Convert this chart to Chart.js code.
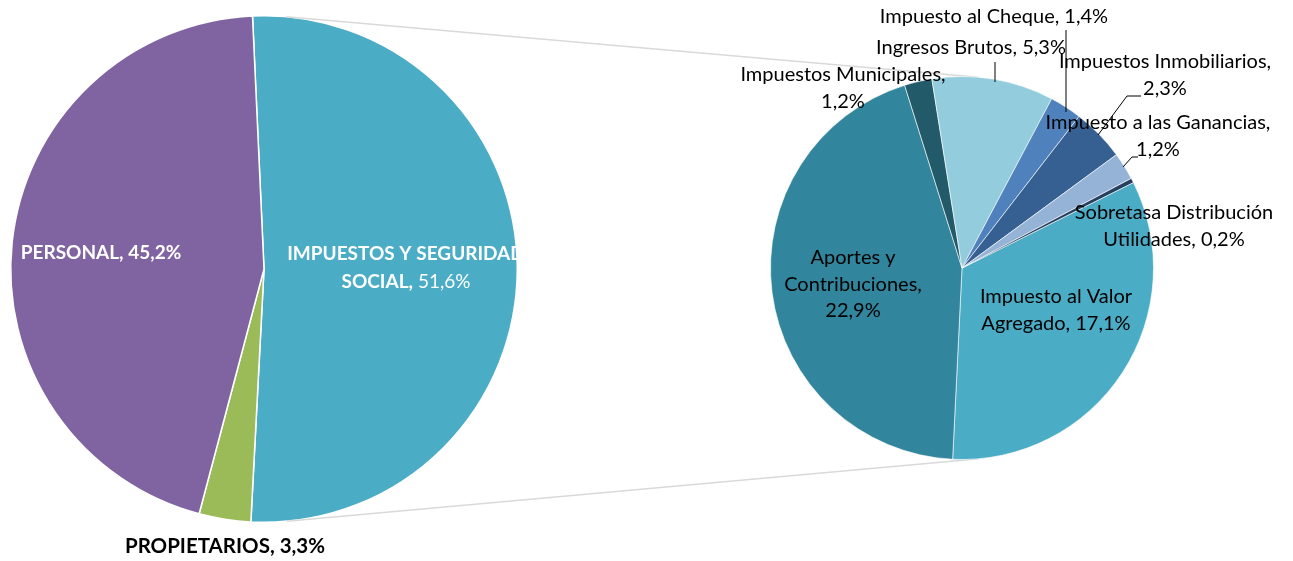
<!DOCTYPE html>
<html><head><meta charset="utf-8">
<script src="https://cdn.jsdelivr.net/npm/chart.js@4.4.1/dist/chart.umd.min.js"></script>
<style>
html,body{margin:0;padding:0;background:#fff;overflow:hidden}
#wrap{position:relative;width:1293px;height:561px}
canvas{position:absolute;left:0;top:0}
</style></head><body>
<div id="wrap"><canvas id="c1" width="1293" height="561"></canvas><canvas id="c2" width="1293" height="561"></canvas></div>
<script>
// ---- data ----
const mainCategories = ['IMPUESTOS Y SEGURIDAD SOCIAL', 'PROPIETARIOS', 'PERSONAL'];
const mainValues = [51.6, 3.3, 45.2];
const taxCategories = ['Impuesto al Valor Agregado', 'Aportes y Contribuciones', 'Impuestos Municipales', 'Ingresos Brutos', 'Impuesto al Cheque', 'Impuestos Inmobiliarios', 'Impuesto a las Ganancias', 'Sobretasa Distribución Utilidades'];
const taxValues = [17.1, 22.9, 1.2, 5.3, 1.4, 2.3, 1.2, 0.2];

// ---- styles ----
const mainColors = ['#4BACC6', '#9BBB59', '#8064A2'];
const taxColors = ['#4BACC6', '#31859C', '#235A69', '#93CDDD', '#4F81BD', '#376092', '#95B3D7', '#254061'];
const FONT = 'Lato, "Open Sans", sans-serif';
const fmt = v => v.toFixed(1).replace('.', ',') + '%';

// label layout: offsets relative to pie center, lines of segments
const mainLabelLayout = [
  { dx: 142, dy: -15, gap: 28, color: '#fff', size: 19, clip: true,
    lines: i => [[{ t: 'IMPUESTOS Y SEGURIDAD', b: true }], [{ t: 'SOCIAL,', b: true }, { t: ' ' + fmt(mainValues[i]), b: false }]] },
  { dx: -39, dy: 277, gap: 28, color: '#000', size: 20.5,
    lines: i => [[{ t: mainCategories[i] + ', ' + fmt(mainValues[i]), b: true }]] },
  { dx: -163, dy: -16, gap: 28, color: '#fff', size: 19,
    lines: i => [[{ t: mainCategories[i] + ', ' + fmt(mainValues[i]), b: true }]] }
];
const taxLabelLayout = [
  { dx: 94, dy: 29, lines: i => ['Impuesto al Valor', 'Agregado, ' + fmt(taxValues[i])] },
  { dx: -109, dy: -10, lines: i => ['Aportes y', 'Contribuciones,', fmt(taxValues[i])] },
  { dx: -119, dy: -193, lines: i => ['Impuestos Municipales,', fmt(taxValues[i])] },
  { dx: 9, dy: -220, lines: i => ['Ingresos Brutos, ' + fmt(taxValues[i])], leader: [[33, -206], [33, -186]] },
  { dx: 32, dy: -251, lines: i => ['Impuesto al Cheque, ' + fmt(taxValues[i])], leader: [[104, -238], [104, -156]] },
  { dx: 203, dy: -206, lines: i => ['Impuestos Inmobiliarios,', fmt(taxValues[i])], leader: [[179, -172], [165, -172], [136, -133]] },
  { dx: 196, dy: -145, lines: i => ['Impuesto a las Ganancias,', fmt(taxValues[i])], leader: [[176, -111], [170, -111], [161, -101]] },
  { dx: 212, dy: -55, lines: i => ['Sobretasa Distribución', 'Utilidades, ' + fmt(taxValues[i])] }
];

function drawSegLine(ctx, segs, cx, y, size) {
  let total = 0;
  const widths = segs.map(s => { ctx.font = (s.b ? 'bold ' : '') + size + 'px ' + FONT; const w = ctx.measureText(s.t).width; total += w; return w; });
  let x = cx - total / 2;
  segs.forEach((s, k) => { ctx.font = (s.b ? 'bold ' : '') + size + 'px ' + FONT; ctx.fillText(s.t, x, y); x += widths[k]; });
}

const mainLabels = {
  id: 'mainLabels',
  afterDatasetsDraw(chart) {
    const ctx = chart.ctx, arc = chart.getDatasetMeta(0).data[0];
    const cx = arc.x, cy = arc.y, ca = chart.chartArea;
    mainLabelLayout.forEach((L, i) => {
      ctx.save();
      if (L.clip) { ctx.beginPath(); ctx.rect(ca.left, ca.top, ca.right - ca.left, ca.bottom - ca.top); ctx.clip(); }
      ctx.fillStyle = L.color; ctx.textAlign = 'left'; ctx.textBaseline = 'middle';
      L.lines(i).forEach((segs, k) => drawSegLine(ctx, segs, cx + L.dx, cy + L.dy + k * L.gap, L.size));
      ctx.restore();
    });
  }
};

let leftChart;
const taxLabels = {
  id: 'taxLabels',
  beforeDatasetsDraw(chart) {
    // connector lines: external tangents between the two pies
    if (!leftChart) return;
    const a = leftChart.getDatasetMeta(0).data[0], b = chart.getDatasetMeta(0).data[0];
    const x1 = a.x, y1 = a.y, r1 = a.outerRadius, x2 = b.x, y2 = b.y, r2 = b.outerRadius;
    const d = Math.hypot(x2 - x1, y2 - y1), th = Math.atan2(y2 - y1, x2 - x1), be = Math.acos((r1 - r2) / d);
    const ctx = chart.ctx;
    ctx.save(); ctx.strokeStyle = '#D9D9D9'; ctx.lineWidth = 1.5;
    [th - be, th + be].forEach(g => {
      ctx.beginPath();
      ctx.moveTo(x1 + r1 * Math.cos(g), y1 + r1 * Math.sin(g));
      ctx.lineTo(x2 + r2 * Math.cos(g), y2 + r2 * Math.sin(g));
      ctx.stroke();
    });
    ctx.restore();
  },
  afterDatasetsDraw(chart) {
    const ctx = chart.ctx, arc = chart.getDatasetMeta(0).data[0];
    const cx = arc.x, cy = arc.y;
    ctx.save();
    ctx.strokeStyle = '#000'; ctx.lineWidth = 1;
    taxLabelLayout.forEach(L => {
      if (!L.leader) return;
      ctx.beginPath();
      L.leader.forEach((p, k) => k ? ctx.lineTo(cx + p[0], cy + p[1]) : ctx.moveTo(cx + p[0], cy + p[1]));
      ctx.stroke();
    });
    ctx.fillStyle = '#000'; ctx.textAlign = 'center'; ctx.textBaseline = 'middle';
    ctx.font = '20px ' + FONT;
    taxLabelLayout.forEach((L, i) => {
      L.lines(i).forEach((t, k) => ctx.fillText(t, cx + L.dx, cy + L.dy + k * 26.5));
    });
    ctx.restore();
  }
};

const common = {
  responsive: false, animation: false,
  plugins: { legend: { display: false }, tooltip: { enabled: false } }
};

leftChart = new Chart(document.getElementById('c1'), {
  type: 'pie',
  data: { labels: mainCategories, datasets: [{ data: mainValues, backgroundColor: mainColors, borderColor: '#fff', borderWidth: 1.5 }] },
  options: Object.assign({}, common, { rotation: -2.6, layout: { padding: { left: 10, top: 15, right: 775, bottom: 38 } } }),
  plugins: [mainLabels]
});

new Chart(document.getElementById('c2'), {
  type: 'pie',
  data: { labels: taxCategories, datasets: [{ data: taxValues, backgroundColor: taxColors, borderColor: 'rgba(255,255,255,0.6)', borderWidth: 1 }] },
  options: Object.assign({}, common, { rotation: 63.5, layout: { padding: { left: 770, top: 76, right: 139, bottom: 101 } } }),
  plugins: [taxLabels]
});
</script>
</body></html>
